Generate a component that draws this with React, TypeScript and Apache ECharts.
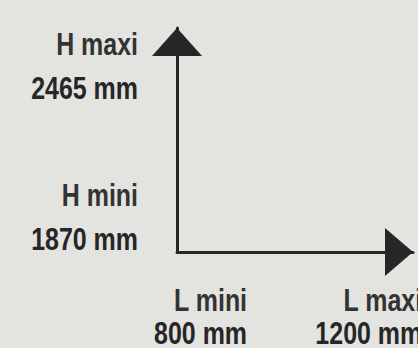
import React, { useEffect, useRef } from "react";
import * as echarts from "echarts";

const widthNames = ["L mini", "L maxi"];
const widthValues = [800, 1200];
const heightNames = ["H mini", "H maxi"];
const heightValues = [1870, 2465];
const unit = "mm";

const FONT = '"Liberation Sans", Arial, sans-serif';

export default function App() {
  const ref = useRef<HTMLDivElement>(null);
  useEffect(() => {
    if (!ref.current) return;
    const chart = echarts.init(ref.current, null, { renderer: "svg" });
    const xMin = 640;
    const yMin = 1732;
    chart.setOption({
      animation: false,
      backgroundColor: "#e3e3df",
      grid: { left: 177, right: 5, top: 28, bottom: 96 },
      xAxis: {
        type: "value",
        min: xMin,
        max: 1179,
        splitLine: { show: false },
        axisTick: { show: false },
        axisLabel: { show: false },
        axisLine: {
          show: true,
          lineStyle: { color: "#262626", width: 3 },
          symbol: ["none", "triangle"],
          symbolSize: [48, 28],
          symbolOffset: [0, -14],
        },
      },
      yAxis: {
        type: "value",
        min: yMin,
        max: 2615,
        splitLine: { show: false },
        axisTick: { show: false },
        axisLabel: { show: false },
        axisLine: {
          show: true,
          lineStyle: { color: "#262626", width: 3 },
          symbol: ["none", "triangle"],
          symbolSize: [50, 28],
          symbolOffset: [0, -14],
        },
      },
      series: [{ type: "scatter", data: [], silent: true }],
    });

    const textStyle = (text: string, light: boolean) => ({
      text,
      x: 0,
      y: 0,
      align: "right",
      verticalAlign: "middle",
      font: `bold 32px ${FONT}`,
      fill: light ? "#333333" : "#262626",
    });
    const graphics: any[] = [];
    const axisY = chart.convertToPixel({ yAxisIndex: 0 }, yMin) as number;
    const axisX = chart.convertToPixel({ xAxisIndex: 0 }, xMin) as number;
    widthValues.forEach((v, i) => {
      const px = chart.convertToPixel({ xAxisIndex: 0 }, v) as number;
      graphics.push({ type: "text", x: px, y: axisY + 48, scaleX: 0.78, style: textStyle(widthNames[i], true) });
      graphics.push({ type: "text", x: px, y: axisY + 81, scaleX: 0.78, style: textStyle(`${v} ${unit}`, false) });
    });
    heightValues.forEach((v, i) => {
      const py = chart.convertToPixel({ yAxisIndex: 0 }, v) as number;
      const rx = axisX - 39;
      graphics.push({ type: "text", x: rx, y: py - 22, scaleX: 0.78, style: textStyle(heightNames[i], true) });
      graphics.push({ type: "text", x: rx, y: py + 22, scaleX: 0.78, style: textStyle(`${v} ${unit}`, false) });
    });
    chart.setOption({ graphic: graphics });
    return () => chart.dispose();
  }, []);
  return (
    <div
      ref={ref}
      style={{ position: "absolute", left: 0, top: 0, width: 418, height: 348, background: "#e3e3df" }}
    />
  );
}
